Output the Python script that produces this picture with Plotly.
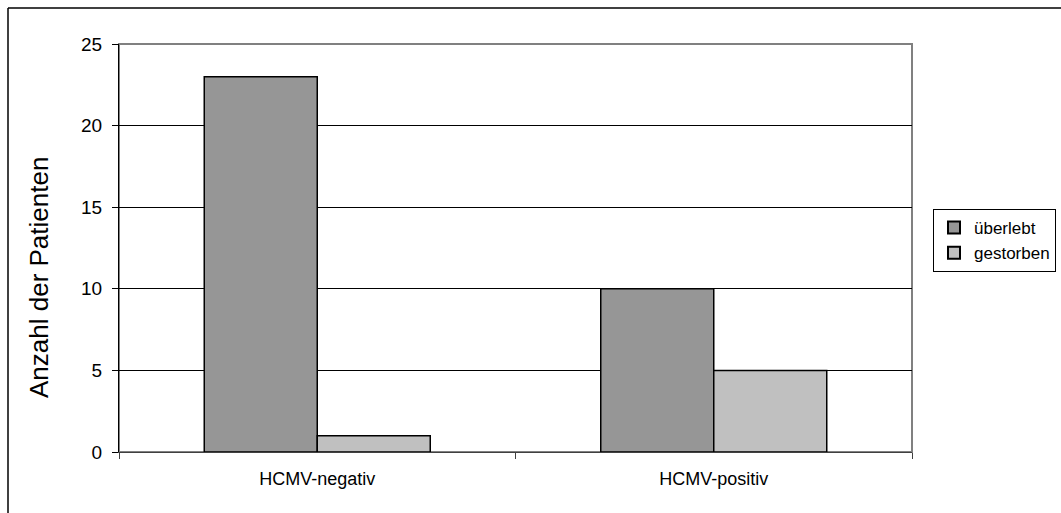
import plotly.graph_objects as go

# Patient counts by HCMV status
categories = ["HCMV-negativ", "HCMV-positiv"]
survived = [23, 10]
died = [1, 5]
series_names = ["überlebt", "gestorben"]
y_ticks = [0, 5, 10, 15, 20, 25]
y_title = "Anzahl der Patienten"

FONT = "Liberation Sans, Arial, sans-serif"

fig = go.Figure()
fig.add_trace(go.Bar(
    x=categories, y=survived, name=series_names[0],
    marker=dict(color="#969696", line=dict(color="#000000", width=1.5)),
))
fig.add_trace(go.Bar(
    x=categories, y=died, name=series_names[1],
    marker=dict(color="#C0C0C0", line=dict(color="#000000", width=1.5)),
))

W, H = 1061, 513
L, R, T, B = 119, 149, 44, 61
PW, PH = W - L - R, H - T - B

fig.update_layout(
    width=W, height=H,
    margin=dict(l=L, r=R, t=T, b=B, pad=0, autoexpand=False),
    paper_bgcolor="white", plot_bgcolor="white",
    barmode="group", bargap=0.43, bargroupgap=0,
    font=dict(family=FONT, color="#000000"),
    showlegend=True,
    legend=dict(
        x=(933 - L) / PW, y=(H - B - 209) / PH, xanchor="left", yanchor="top",
        bgcolor="white", bordercolor="#000000", borderwidth=1,
        font=dict(size=17, family=FONT),
        itemsizing="constant", itemwidth=30, tracegroupgap=6,
    ),
)

fig.update_xaxes(
    type="category", tickson="boundaries", ticks="outside", ticklen=6,
    tickcolor="#404040", showline=True, linecolor="#404040", linewidth=1,
    tickfont=dict(size=18, family=FONT), showgrid=False, ticklabelstandoff=10,
)
fig.update_yaxes(
    range=[0, 25], tickvals=y_ticks, ticks="outside", ticklen=6,
    tickcolor="#000000", showline=True, linecolor="#000000", linewidth=1,
    showgrid=True, gridcolor="#000000", gridwidth=1, zeroline=False,
    tickfont=dict(size=19, family=FONT), ticklabelstandoff=6,
)

# Axis title, centred on the chart frame
fig.add_annotation(
    text=y_title, textangle=-90, showarrow=False,
    xref="paper", yref="paper", x=(39 - L) / PW, y=(H - B - 278) / PH,
    xanchor="center", yanchor="middle",
    font=dict(size=26, family=FONT, color="#000000"),
)

# Grey border around the plotting area and the outer chart frame
fig.add_shape(type="rect", xref="paper", yref="paper", x0=0, y0=0, x1=1, y1=1,
              line=dict(color="#808080", width=2), layer="below")
fig.add_shape(type="line", xref="paper", yref="paper",
              x0=(8 - L) / PW, x1=(W - L) / PW, y0=(H - B - 8) / PH, y1=(H - B - 8) / PH,
              line=dict(color="#000000", width=1.5))
fig.add_shape(type="line", xref="paper", yref="paper",
              x0=(8 - L) / PW, x1=(8 - L) / PW, y0=(H - B - 8) / PH, y1=-B / PH,
              line=dict(color="#000000", width=1.5))

fig.write_html("out.html")
